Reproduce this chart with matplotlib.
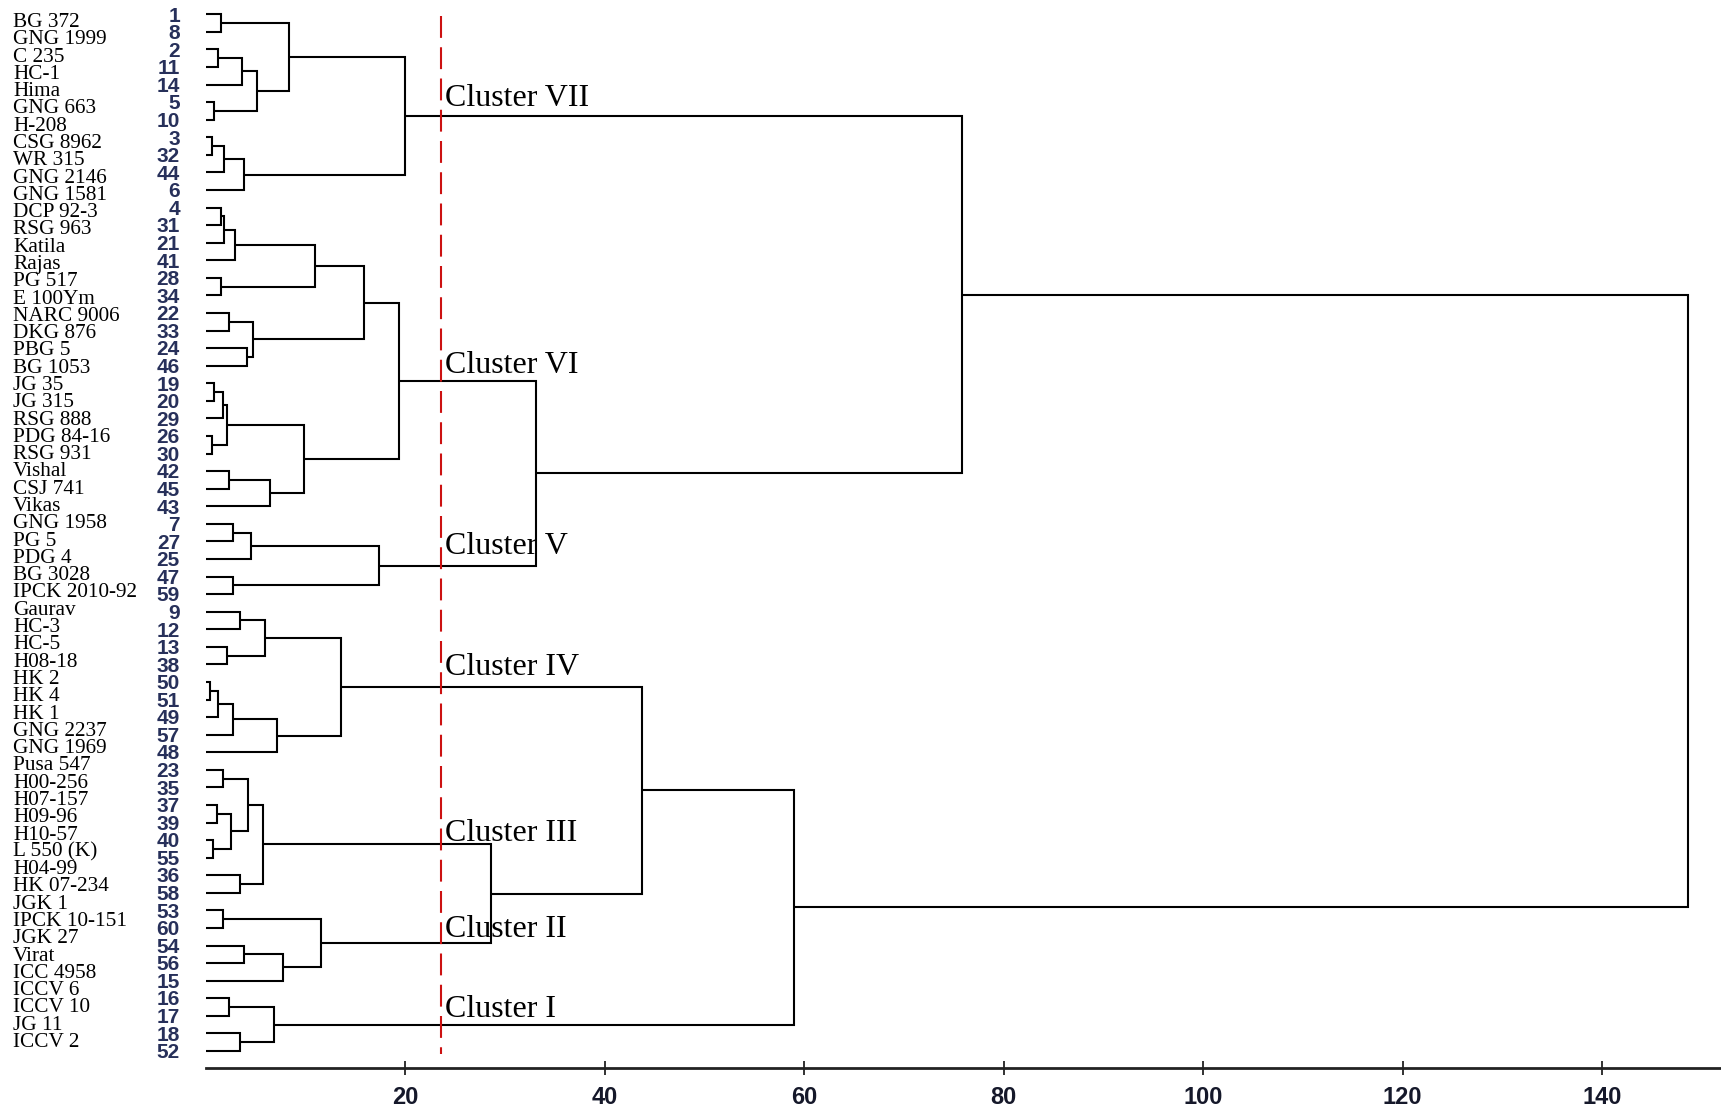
import matplotlib
matplotlib.use("Agg")
import matplotlib.pyplot as plt

# ---------------- data ----------------
leaf_numbers = [1, 8, 2, 11, 14, 5, 10, 3, 32, 44, 6, 4, 31, 21, 41, 28, 34, 22, 33, 24,
                46, 19, 20, 29, 26, 30, 42, 45, 43, 7, 27, 25, 47, 59, 9, 12, 13, 38, 50, 51,
                49, 57, 48, 23, 35, 37, 39, 40, 55, 36, 58, 53, 60, 54, 56, 15, 16, 17, 18, 52]

genotype_names = ["BG 372", "GNG 1999", "C 235", "HC-1", "Hima", "GNG 663", "H-208",
                  "CSG 8962", "WR 315", "GNG 2146", "GNG 1581", "DCP 92-3", "RSG 963",
                  "Katila", "Rajas", "PG 517", "E 100Ym", "NARC 9006", "DKG 876", "PBG 5",
                  "BG 1053", "JG 35", "JG 315", "RSG 888", "PDG 84-16", "RSG 931", "Vishal",
                  "CSJ 741", "Vikas", "GNG 1958", "PG 5", "PDG 4", "BG 3028", "IPCK 2010-92",
                  "Gaurav", "HC-3", "HC-5", "H08-18", "HK 2", "HK 4", "HK 1", "GNG 2237",
                  "GNG 1969", "Pusa 547", "H00-256", "H07-157", "H09-96", "H10-57",
                  "L 550 (K)", "H04-99", "HK 07-234", "JGK 1", "IPCK 10-151", "JGK 27",
                  "Virat", "ICC 4958", "ICCV 6", "ICCV 10", "JG 11", "ICCV 2"]

# merge k joins merge_left[k] and merge_right[k] (leaf number or "m<j>") at merge_height[k]
merge_left = [1, 2, "m1", 5, "m2", "m0", 3, "m6", "m7", "m5",
              4, "m10", "m11", 28, "m12", 22, 24, "m15", "m14", 19,
              "m19", 26, "m20", 42, "m23", "m22", "m18", 7, "m27", 47,
              "m28", "m26", "m9", 9, 13, "m33", 50, "m36", "m37", "m38",
              "m35", 23, 37, 40, "m42", "m41", 36, "m45", 53, 54,
              "m49", "m48", "m47", "m40", 16, 18, "m54", "m53", "m32"]
merge_right = [8, 11, 14, 10, "m3", "m4", 32, 44, 6, "m8",
               31, 21, 41, 34, "m13", 33, 46, "m16", "m17", 20,
               29, 30, "m21", 45, 43, "m24", "m25", 27, 25, 59,
               "m29", "m30", "m31", 12, 38, "m34", 51, 49, 57, 48,
               "m39", 35, 39, 55, "m43", "m44", 58, "m46", 60, 56,
               15, "m50", "m51", "m52", 17, 52, "m55", "m56", "m57"]
merge_height = [1.52, 1.29, 3.63, 0.85, 5.13, 8.37, 0.68, 1.89, 3.86, 20.0,
                1.52, 1.89, 2.96, 1.52, 10.98, 2.39, 4.13, 4.73, 15.9, 0.85,
                1.72, 0.68, 2.12, 2.39, 6.47, 9.91, 19.4, 2.79, 4.53, 2.79,
                17.4, 33.1, 75.8, 3.46, 2.12, 6.0, 0.45, 1.29, 2.79, 7.13,
                13.55, 1.72, 1.12, 0.78, 2.6, 4.3, 3.46, 5.8, 1.72, 3.86,
                7.74, 11.6, 28.6, 43.8, 2.39, 3.46, 6.87, 58.96, 148.6]

cluster_names = ["Cluster VII", "Cluster VI", "Cluster V", "Cluster IV",
                 "Cluster III", "Cluster II", "Cluster I"]
cluster_nodes = ["m9", "m26", "m30", "m40", "m47", "m51", "m56"]
cut_height = 23.65
x_ticks = [20, 40, 60, 80, 100, 120, 140]

# ---------------- figure ----------------
W, H = 1721, 1112
fig = plt.figure(figsize=(W / 100, H / 100), dpi=100)
ax = fig.add_axes([0, 0, 1, 1])

px_per_unit = 9.975
x0_px = 205.5
py_per_leaf = 17.57
y0_px = 14.3
ax.set_xlim(-x0_px / px_per_unit, (W - x0_px) / px_per_unit)
ax.set_ylim((H - y0_px) / py_per_leaf, -y0_px / py_per_leaf)

# positions
pos = {}
hgt = {}
for i, n in enumerate(leaf_numbers):
    pos[n] = float(i)
    hgt[n] = 0.0

line_kw = dict(color="black", lw=1.5, solid_capstyle="butt", solid_joinstyle="miter")
for k, (a, b, h) in enumerate(zip(merge_left, merge_right, merge_height)):
    name = "m%d" % k
    ya, yb = pos[a], pos[b]
    ax.plot([hgt[a], h, h, hgt[b]], [ya, ya, yb, yb], **line_kw)
    pos[name] = (ya + yb) / 2
    hgt[name] = h

# leaf numbers
for i, n in enumerate(leaf_numbers):
    ax.text(-2.56, i + 0.1, str(n), ha="right", va="center", fontsize=15,
            fontweight="bold", color="#27305a",
            family=["Liberation Sans", "DejaVu Sans"])

# genotype names
for i, nm in enumerate(genotype_names):
    ax.text(-19.3, i * 0.984 + 0.72, nm, ha="left", va="baseline", fontsize=15.3,
            color="black", family=["Liberation Serif", "DejaVu Serif"])

# cut line
ax.plot([cut_height, cut_height], [0.12, 59.2], color="#cc1111", lw=1.5,
        linestyle=(0, (10.5, 4.5)))

# cluster labels
label_off = [0.57, 0.43, 0.63, 0.67, 0.19, 0.34, 0.45]
for nm, node, off in zip(cluster_names, cluster_nodes, label_off):
    ax.text(24.0, pos[node] - off, nm, ha="left", va="baseline", fontsize=23,
            color="black", family=["Liberation Serif", "DejaVu Serif"])

# axis
for s in ["left", "right", "top"]:
    ax.spines[s].set_visible(False)
ax.spines["bottom"].set_position(("data", (1068 - y0_px) / py_per_leaf))
ax.spines["bottom"].set_bounds(0, (W - x0_px) / px_per_unit)
ax.spines["bottom"].set_linewidth(2.0)
ax.spines["bottom"].set_color("#222222")
ax.set_yticks([])
ax.set_xticks(x_ticks)
ax.set_xticklabels([str(t) for t in x_ticks])
ax.tick_params(axis="x", direction="inout", length=9.4, width=1.3, pad=8,
               labelsize=17, colors="#222222", labelcolor="#15182a")
for lab in ax.get_xticklabels():
    lab.set_fontweight("bold")
    lab.set_family(["Liberation Sans", "DejaVu Sans"])

fig.savefig("out.png", dpi=100, facecolor="white")
